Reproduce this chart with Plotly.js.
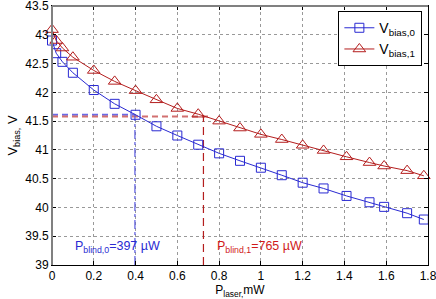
<!DOCTYPE html>
<html><head><meta charset="utf-8">
<script src="https://cdn.plot.ly/plotly-3.0.1.min.js"></script>
<style>html,body{margin:0;padding:0;background:#fff}#c{width:436px;height:299px}</style>
</head><body><div id="c"></div>
<script>
const pLaser = [0, 0.02, 0.05, 0.1, 0.2, 0.3, 0.4, 0.5, 0.6, 0.7, 0.8, 0.9, 1.0, 1.1, 1.2, 1.3, 1.41, 1.52, 1.59, 1.7, 1.78];
const vBias0 = [42.9, 42.68, 42.53, 42.34, 42.04, 41.80, 41.61, 41.41, 41.25, 41.09, 40.94, 40.81, 40.69, 40.56, 40.43, 40.33, 40.20, 40.09, 40.01, 39.90, 39.79];
const vBias1 = [43.09, 42.9, 42.77, 42.61, 42.38, 42.19, 42.03, 41.87, 41.72, 41.62, 41.50, 41.38, 41.27, 41.18, 41.08, 40.99, 40.88, 40.78, 40.72, 40.64, 40.55];
const pBlind0 = 0.397, vBlind0 = 41.61;
const pBlind1 = 0.725, vBlind1 = 41.58;
const xTicks = [0, 0.2, 0.4, 0.6, 0.8, 1, 1.2, 1.4, 1.6, 1.8];
const xTickText = ["0", "0.2", "0.4", "0.6", "0.8", "1", "1.2", "1.4", "1.6", "1.8"];
const yTicks = [39, 39.5, 40, 40.5, 41, 41.5, 42, 42.5, 43, 43.5];
const yTickText = ["39", "39.5", "40", "40.5", "41", "41.5", "42", "42.5", "43", "43.5"];

const blue = '#2a2ad2', red = '#b41e1e';
const traces = [
  {x:[0,pBlind0], y:[vBlind0,vBlind0], mode:'lines', line:{color:'#6a6ae6', width:2, dash:'6px,4px'}, showlegend:false, hoverinfo:'skip', cliponaxis:false},
  {x:[0,pBlind1+0.03], y:[vBlind1,vBlind1], mode:'lines', line:{color:'#d27070', width:2, dash:'6px,4px'}, showlegend:false, hoverinfo:'skip', cliponaxis:false},
  {x:[pBlind0,pBlind0], y:[39,vBlind0], mode:'lines', line:{color:'#5a5ae0', width:1.2, dash:'dashdot'}, showlegend:false, hoverinfo:'skip'},
  {x:[pBlind1,pBlind1], y:[39,vBlind1], mode:'lines', line:{color:red, width:1.2, dash:'8px,5px'}, showlegend:false, hoverinfo:'skip'},
  {x:pLaser, y:vBias0, mode:'lines+markers', name:'V<sub>bias,0</sub>', cliponaxis:false, line:{color:blue, width:1}, marker:{symbol:'square-open', size:9, color:blue, line:{width:1}}},
  {x:pLaser, y:vBias1, mode:'lines+markers', name:'V<sub>bias,1</sub>', cliponaxis:false, line:{color:red, width:1}, marker:{symbol:'triangle-up-open', size:11, color:red, line:{width:1}}}
];
const fam = 'Liberation Sans, Arial, sans-serif';
const fnt = {family:fam, size:12, color:'#000'};
const layout = {
  width:436, height:299,
  margin:{l:52, r:8, t:6, b:34},
  paper_bgcolor:'#fff', plot_bgcolor:'#fff',
  font:fnt,
  showlegend:true,
  legend:{x:0.985, y:0.98, xanchor:'right', yanchor:'top', bgcolor:'#fff', bordercolor:'#000', borderwidth:1, font:{family:fam, size:14}, tracegroupgap:0},
  xaxis:{range:[0,1.8], tickvals:xTicks, ticktext:xTickText, showgrid:true, gridcolor:'#999', griddash:'dot', gridwidth:1,
    showline:true, linecolor:'#000', linewidth:1, mirror:'ticks', ticks:'inside', ticklen:4, tickcolor:'#000', zeroline:false,
    ticklabeloverflow:'allow',
    title:{text:'P<sub>laser,</sub>mW', font:{family:fam, size:12}, standoff:3}, tickfont:fnt},
  yaxis:{range:[39,43.5], tickvals:yTicks, ticktext:yTickText, showgrid:true, gridcolor:'#999', griddash:'dot', gridwidth:1,
    showline:true, linecolor:'#000', linewidth:1, mirror:'ticks', ticks:'inside', ticklen:4, tickcolor:'#000', zeroline:false,
    ticklabeloverflow:'allow',
    title:{text:'V<sub>bias,</sub> V', font:{family:fam, size:13}, standoff:4}, tickfont:fnt},
  shapes:[
    {type:'line', xref:'paper', yref:'paper', x0:0, x1:0, y0:0, y1:1, line:{color:'#808080', width:2}},
    {type:'line', xref:'paper', yref:'paper', x0:0, x1:1, y0:1, y1:1, line:{color:'#808080', width:2}}
  ],
  annotations:[
    {x:0.10, y:39.32, xref:'x', yref:'y', text:'P<sub>blind,0</sub>=397 µW', showarrow:false, xanchor:'left', font:{family:fam, size:12.5, color:blue}},
    {x:0.78, y:39.32, xref:'x', yref:'y', text:'P<sub>blind,1</sub>=765 µW', showarrow:false, xanchor:'left', font:{family:fam, size:12.5, color:'#d01a1a'}}
  ]
};
Plotly.newPlot('c', traces, layout, {staticPlot:true, displayModeBar:false});
</script></body></html>
